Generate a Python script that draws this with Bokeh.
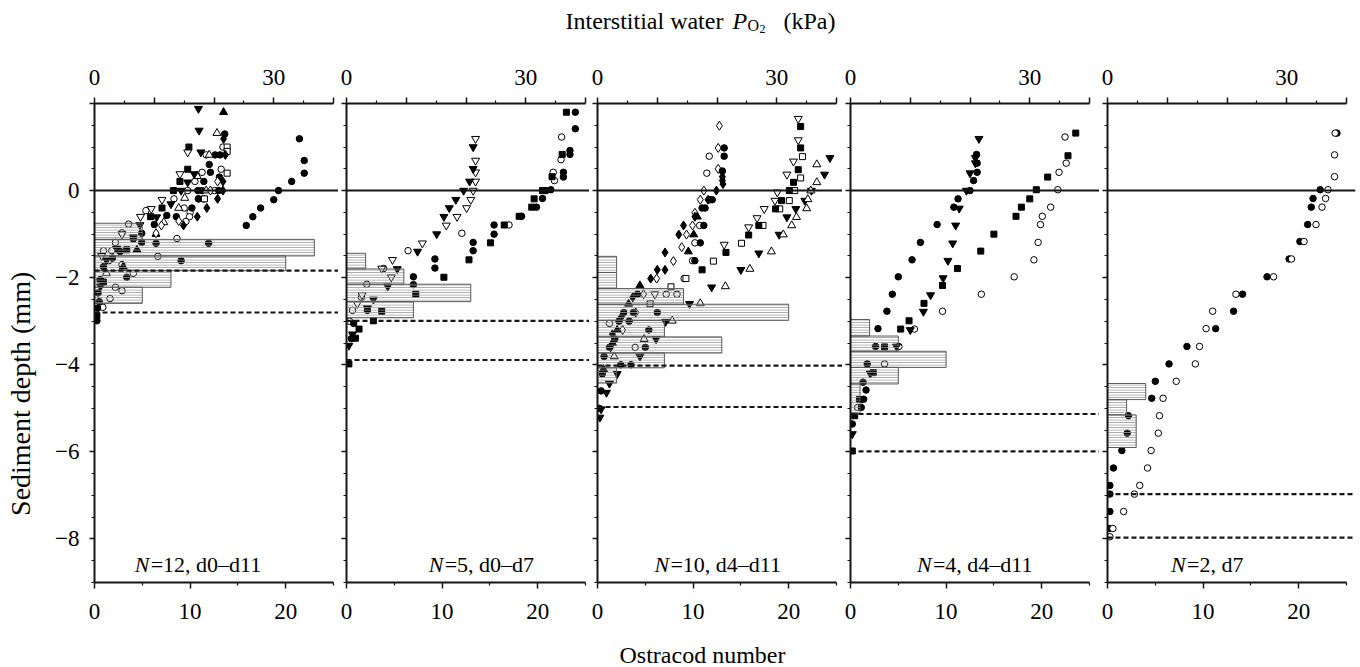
import math
from bokeh.plotting import figure
from bokeh.models import Range1d, LinearAxis, FixedTicker, Span, Label
from bokeh.layouts import row, column
from bokeh.embed import file_html
from bokeh.resources import INLINE

FONT = "Liberation Serif"

# ---------------- data: interstitial water PO2 profiles (kPa, depth mm) -------------
P1_CIRCLE_F = [(21.8, 1.30), (20.2, 0.82), (21.0, 0.82), (19.2, 0.60), (19.4, 0.42), (20.9, 0.31),
               (18.3, 0.21), (17.3, 0.0), (18.0, 0.0), (20.8, 0.0), (17.4, -0.19), (18.3, -0.19),
               (16.3, -0.40), (12.1, -0.57), (13.7, -0.60), (10.0, -0.78), (7.9, -0.98), (6.5, -1.11),
               (7.9, -1.19), (10.3, -1.21), (19.1, -1.21), (14.5, -1.61), (5.4, -1.99), (4.3, -1.40),
               (3.0, -1.55), (1.5, -1.75), (1.0, -2.05), (0.6, -2.35), (0.8, -2.55), (0.5, -2.70),
               (0.4, -2.99), (34.3, 1.19), (35.1, 0.69), (35.1, 0.40), (33.0, 0.21), (30.8, 0.0),
               (30.0, -0.21), (27.8, -0.40), (26.5, -0.60), (25.4, -0.80)]
P1_CIRCLE_O = [(21.5, 1.0), (18.7, 0.82), (18.0, 0.42), (21.2, 0.49), (16.8, 0.21), (15.6, 0.0),
               (20.1, 0.0), (13.3, -0.19), (17.4, -0.19), (8.6, -0.46), (15.0, -0.40), (16.0, -0.50),
               (15.9, -0.60), (15.3, -0.71), (13.8, -1.10), (5.7, -0.77), (4.6, -0.97), (3.5, -1.19),
               (1.5, -1.38), (2.9, -1.38), (10.6, -1.51), (2.4, -1.61), (4.6, -1.70), (6.5, -1.90),
               (3.5, -2.22), (4.6, -2.30), (2.6, -2.48), (1.4, -2.68), (0.9, -2.05)]
P1_SQUARE_F = [(15.8, 1.0), (15.6, 0.49), (14.3, 0.21), (13.2, 0.0), (11.3, -0.40), (9.4, -0.60),
               (5.4, -1.36), (1.5, -2.10), (0.4, -2.87)]
P1_SQUARE_O = [(22.2, 1.0), (22.2, 0.90), (22.2, 0.40), (18.4, -0.19)]
P1_TRI_F = [(21.6, 1.80), (10.3, -1.0), (7.1, -1.36), (4.8, -1.75)]
P1_TRI_O = [(20.5, 1.32), (19.2, 0.82), (17.2, 0.33), (18.7, 0.0), (15.1, -0.17), (14.1, -0.40),
            (11.6, -0.73), (2.0, -1.90)]
P1_INV_F = [(17.4, 1.88), (17.5, 1.38), (17.8, 0.88), (16.7, 0.38), (15.6, 0.19), (14.5, 0.0),
            (12.8, -0.31), (10.4, -0.61), (7.6, -0.79), (6.5, -1.07), (3.7, -1.33), (2.0, -1.60),
            (1.0, -2.20)]
P1_INV_O = [(15.6, 0.88), (14.3, 0.38), (11.3, -0.21), (9.5, -0.42), (7.7, -0.60), (4.6, -1.0),
            (1.2, -1.50)]
P1_DIA_F = [(21.6, 1.19), (21.9, 0.82), (21.5, 0.21), (21.5, 0.0), (20.6, -0.19), (18.8, -0.40),
            (17.2, -0.60), (14.9, -0.80)]
P1_DIA_O = [(20.6, 0.21), (19.4, 0.0), (14.1, -0.70), (11.2, -0.80), (10.3, -0.98)]

P2_CIRCLE_F = [(38.3, 1.80), (38.3, 1.42), (37.4, 0.92), (37.4, 0.83), (36.3, 0.42), (36.3, 0.31),
               (34.2, 0.02), (33.4, 0.0), (32.8, -0.18), (31.8, -0.38), (29.3, -0.59), (24.7, -0.79),
               (24.7, -1.0), (21.2, -1.19), (21.2, -1.38), (14.8, -1.57), (14.8, -1.78), (11.2, -1.98),
               (11.2, -2.16), (3.5, -2.75), (1.2, -3.05), (0.8, -3.40)]
P2_SQUARE_F = [(36.8, 1.80), (36.1, 0.83), (34.4, 0.32), (32.8, 0.0), (31.4, -0.19), (31.0, -0.38),
               (28.9, -0.59), (26.4, -0.79), (24.1, -1.20), (20.5, -1.59), (16.3, -1.99), (11.6, -2.38),
               (5.9, -2.77), (4.5, -2.99), (2.1, -3.18), (1.5, -3.39), (0.4, -3.98)]
P2_CIRCLE_O = [(36.0, 1.23), (35.9, 0.71), (34.6, 0.42), (34.8, 0.23), (27.2, -0.79), (19.3, -0.98),
               (10.3, -1.38), (6.2, -1.79), (3.4, -2.15), (2.5, -2.45), (1.0, -2.75), (0.5, -3.0)]
P2_INV_O = [(21.6, 1.19), (21.6, 0.69), (21.6, 0.42), (21.6, 0.21), (21.2, 0.0), (20.8, -0.21),
            (20.1, -0.40), (18.5, -0.60), (16.7, -0.80), (12.7, -1.21), (7.7, -1.59), (5.9, -1.79),
            (7.5, -1.99), (2.6, -2.40), (1.8, -2.60)]
P2_INV_F = [(21.2, 1.0), (21.2, 0.5), (20.6, 0.21), (19.6, 0.0), (18.3, -0.21), (17.2, -0.40),
            (16.3, -0.60), (15.1, -1.0), (11.9, -1.40), (8.5, -1.80), (6.9, -2.20), (4.5, -2.50),
            (3.5, -2.70), (1.0, -3.30), (0.4, -3.56)]

P3_DIA_O = [(20.4, 1.49), (20.2, 0.98), (20.2, 0.50), (17.8, 0.0), (17.2, -0.21), (16.3, -0.51),
            (15.9, -0.80), (14.9, -1.01), (14.1, -1.30), (12.7, -1.62), (9.9, -2.02), (7.7, -2.38),
            (6.4, -2.80), (4.2, -3.20), (2.2, -3.60)]
P3_DIA_F = [(20.9, 0.32), (20.9, 0.23), (21.0, 0.15), (19.9, 0.0), (18.5, -0.21), (16.3, -0.60),
            (14.4, -0.80), (13.6, -1.01), (11.3, -1.42), (10.0, -1.82), (11.3, -1.82), (8.9, -2.02),
            (5.9, -2.45), (4.0, -2.90), (2.5, -3.30)]
P3_CIRCLE_F = [(21.2, 0.98), (21.2, 0.79), (20.9, 0.45), (18.8, -0.21), (19.2, -0.21), (17.5, -0.40),
               (18.0, -0.40), (17.8, -0.80), (17.2, -1.20), (16.3, -1.61), (6.7, -2.38), (4.4, -2.80),
               (6.0, -2.80), (10.0, -2.80), (3.6, -3.0), (5.3, -3.0), (8.6, -3.20), (2.9, -3.41),
               (2.0, -3.60), (8.0, -3.60), (1.1, -3.81), (3.9, -4.0), (5.6, -4.0), (0.8, -4.21),
               (0.6, -4.60), (0.3, -5.0)]
P3_CIRCLE_O = [(18.7, 0.79), (18.3, 0.40), (17.1, -0.80), (16.3, -1.20), (15.9, -1.61), (14.5, -2.02),
               (13.3, -2.38), (11.5, -2.38), (6.3, -3.60), (2.0, -3.05)]
P3_TRI_F = [(16.7, -0.60), (16.1, -1.01), (15.2, -1.40), (7.1, -2.18), (5.2, -2.60), (3.3, -3.20),
            (2.5, -3.50), (1.0, -4.10)]
P3_SQUARE_F = [(34.0, 1.47), (34.0, 0.98), (33.6, 0.48), (32.8, 0.19), (32.1, 0.0), (30.8, -0.23),
               (29.8, -0.42), (27.0, -0.80), (25.3, -1.02), (21.5, -1.42), (17.5, -1.82)]
P3_SQUARE_O = [(34.3, 0.78), (34.0, 0.29), (33.0, 0.0), (32.1, -0.23), (30.5, -0.42), (27.7, -0.80),
               (24.1, -1.21), (19.4, -1.62), (14.8, -2.02), (12.3, -2.21), (8.8, -2.60)]
P3_INV_O = [(33.6, 1.65), (33.6, 1.16), (32.8, 0.67), (31.7, 0.37), (30.1, -0.04), (29.7, -0.23),
            (27.9, -0.42), (26.7, -0.63), (25.3, -0.84), (21.2, -1.24), (9.6, -2.38)]
P3_INV_F = [(38.9, 0.75), (38.0, 0.37), (35.8, 0.0), (34.7, -0.23), (33.2, -0.42), (31.7, -0.61),
            (30.4, -1.01), (27.0, -1.44), (24.0, -1.82), (19.1, -2.22), (15.4, -2.60), (11.4, -3.01),
            (9.8, -3.41), (7.1, -3.81), (3.3, -4.21), (2.0, -4.43), (1.5, -4.64), (0.6, -5.02),
            (0.4, -5.21)]
P3_TRI_O = [(36.7, 0.60), (36.7, 0.19), (35.7, 0.0), (35.2, -0.20), (35.0, -0.41), (33.3, -0.61),
            (32.5, -0.80), (31.1, -1.01), (29.1, -1.40), (25.5, -1.80), (21.4, -2.20), (17.2, -2.59),
            (12.5, -2.99), (7.8, -3.41), (2.8, -3.81)]

P4_CIRCLE_F = [(21.1, 0.83), (21.2, 0.63), (21.2, 0.42), (20.6, 0.23), (20.0, 0.0), (18.0, -0.19),
               (17.3, -0.38), (14.5, -0.78), (11.7, -1.19), (10.3, -1.59), (8.0, -1.98), (7.0, -2.38),
               (6.1, -2.77), (4.6, -3.17), (4.2, -3.58), (2.8, -3.98), (2.1, -4.40), (2.6, -4.58),
               (2.2, -4.79), (1.8, -4.98), (0.3, -5.36)]
P4_INV_F = [(21.5, 1.19), (20.9, 0.75), (20.9, 0.63), (20.0, 0.40), (19.4, 0.0), (18.2, -0.41),
            (17.6, -0.80), (17.1, -1.21), (16.3, -1.61), (15.5, -2.01), (13.4, -2.40), (12.2, -2.78),
            (10.0, -3.20), (7.7, -3.58), (3.3, -4.20), (0.3, -5.59)]
P4_SQUARE_F = [(37.7, 1.32), (36.4, 0.80), (33.0, 0.31), (31.1, 0.02), (30.0, -0.19), (28.6, -0.38),
               (27.7, -0.59), (24.0, -1.0), (21.8, -1.39), (17.9, -1.79), (15.4, -2.18), (12.3, -2.59),
               (9.8, -2.99), (8.4, -3.18), (5.7, -3.59), (3.8, -4.18), (1.5, -4.80), (0.7, -5.17),
               (0.3, -5.98)]
P4_CIRCLE_O = [(35.9, 1.23), (36.1, 0.63), (34.9, 0.42), (34.7, 0.02), (33.5, -0.38), (32.1, -0.59),
               (31.8, -0.78), (31.4, -1.19), (30.7, -1.59), (27.4, -1.98), (21.9, -2.38), (15.4, -2.77),
               (10.7, -3.18), (8.1, -3.58), (5.7, -3.98), (1.2, -4.98)]

P5_CIRCLE_O = [(38.1, 1.32), (38.0, 0.82), (38.0, 0.32), (36.9, 0.02), (36.5, -0.18), (35.9, -0.38),
               (34.9, -0.78), (32.9, -1.17), (30.8, -1.57), (27.8, -1.98), (21.5, -2.38), (17.6, -2.77),
               (16.5, -3.17), (15.4, -3.58), (14.7, -3.98), (11.5, -4.38), (9.3, -4.77), (8.7, -5.17),
               (8.5, -5.57), (7.3, -5.97), (6.7, -6.37), (5.4, -6.77), (4.5, -6.97), (2.7, -7.37),
               (0.9, -7.76), (0.4, -7.95)]
P5_CIRCLE_F = [(38.4, 1.32), (35.6, 0.02), (34.4, -0.18), (34.1, -0.38), (33.5, -0.78), (32.2, -1.17),
               (30.4, -1.57), (26.7, -1.98), (22.6, -2.38), (21.1, -2.77), (18.1, -3.17), (13.3, -3.58),
               (10.3, -3.98), (8.0, -4.38), (7.4, -4.77), (3.5, -5.17), (3.3, -5.57), (2.4, -5.97),
               (1.0, -6.37), (0.4, -6.77), (0.4, -6.97), (0.4, -7.37), (0.3, -7.76)]

# ---------------- data: ostracod vertical distributions (bins in mm, counts) ----------
P1_BIN_TOP = [-0.75, -1.12, -1.50, -1.84, -2.22]
P1_BIN_BOTTOM = [-1.12, -1.50, -1.84, -2.22, -2.59]
P1_BIN_COUNT = [5, 23, 20, 8, 5]
P2_BIN_TOP = [-1.44, -1.80, -2.15, -2.55]
P2_BIN_BOTTOM = [-1.80, -2.15, -2.55, -2.92]
P2_BIN_COUNT = [2, 6, 13, 7]
P3_BIN_TOP = [-1.51, -1.88, -2.25, -2.61, -2.98, -3.36, -3.73, -4.07]
P3_BIN_BOTTOM = [-1.88, -2.25, -2.61, -2.98, -3.36, -3.73, -4.07, -4.42]
P3_BIN_COUNT = [2, 2, 9, 20, 7, 13, 7, 2]
P4_BIN_TOP = [-2.96, -3.34, -3.69, -4.06, -4.44]
P4_BIN_BOTTOM = [-3.34, -3.69, -4.06, -4.44, -5.13]
P4_BIN_COUNT = [2, 5, 10, 5, 1]
P5_BIN_TOP = [-4.43, -4.80, -5.15]
P5_BIN_BOTTOM = [-4.80, -5.15, -5.90]
P5_BIN_COUNT = [4, 2, 3]

# depth range limits (dashed lines), mm
P1_LIMITS = [-1.84, -2.80]
P2_LIMITS = [-2.99, -3.89]
P3_LIMITS = [-4.02, -4.97]
P4_LIMITS = [-5.13, -5.99]
P5_LIMITS = [-6.97, -7.97]

NOTE_TEXT = ["=12, d0\u2013d11", "=5, d0\u2013d7", "=10, d4\u2013d11", "=4, d4\u2013d11", "=2, d7"]

Y_TICKS = [-8, -6, -4, -2, 0, 2]
Y_MINOR = [-9 + 0.5 * i for i in range(23)]
OST_TICKS = [0, 10, 20]
OST_MINOR = [5, 15, 25]
KPA_TICKS = [0, 10, 20, 30, 40]
KPA_MINOR = [5, 15, 25, 35]

# ---------------- styling -----------------------------------------------------------
MARKER_STYLE = {
    "circle_f": ("circle", "black", 6.5),
    "circle_o": ("circle", "white", 6.5),
    "square_f": ("square", "black", 6),
    "square_o": ("square", "white", 6),
    "tri_f": ("triangle", "black", 8),
    "tri_o": ("triangle", "white", 8),
    "inv_f": ("inverted_triangle", "black", 8),
    "inv_o": ("inverted_triangle", "white", 8),
    "dia_f": ("diamond", "black", 9),
    "dia_o": ("diamond", "white", 9),
}

PANELS = [
    dict(points=[("circle_o", P1_CIRCLE_O), ("circle_f", P1_CIRCLE_F), ("square_f", P1_SQUARE_F),
                 ("square_o", P1_SQUARE_O), ("tri_f", P1_TRI_F), ("tri_o", P1_TRI_O),
                 ("inv_f", P1_INV_F), ("inv_o", P1_INV_O), ("dia_f", P1_DIA_F), ("dia_o", P1_DIA_O)],
         bins=(P1_BIN_TOP, P1_BIN_BOTTOM, P1_BIN_COUNT), limits=P1_LIMITS, note_x=4.2),
    dict(points=[("circle_o", P2_CIRCLE_O), ("circle_f", P2_CIRCLE_F), ("square_f", P2_SQUARE_F),
                 ("inv_o", P2_INV_O), ("inv_f", P2_INV_F)],
         bins=(P2_BIN_TOP, P2_BIN_BOTTOM, P2_BIN_COUNT), limits=P2_LIMITS, note_x=8.6),
    dict(points=[("dia_o", P3_DIA_O), ("dia_f", P3_DIA_F), ("circle_o", P3_CIRCLE_O),
                 ("circle_f", P3_CIRCLE_F), ("tri_f", P3_TRI_F), ("square_o", P3_SQUARE_O),
                 ("square_f", P3_SQUARE_F), ("inv_o", P3_INV_O), ("inv_f", P3_INV_F), ("tri_o", P3_TRI_O)],
         bins=(P3_BIN_TOP, P3_BIN_BOTTOM, P3_BIN_COUNT), limits=P3_LIMITS, note_x=5.95),
    dict(points=[("circle_o", P4_CIRCLE_O), ("circle_f", P4_CIRCLE_F), ("inv_f", P4_INV_F),
                 ("square_f", P4_SQUARE_F)],
         bins=(P4_BIN_TOP, P4_BIN_BOTTOM, P4_BIN_COUNT), limits=P4_LIMITS, note_x=6.95),
    dict(points=[("circle_f", P5_CIRCLE_F), ("circle_o", P5_CIRCLE_O)],
         bins=(P5_BIN_TOP, P5_BIN_BOTTOM, P5_BIN_COUNT), limits=P5_LIMITS, note_x=6.65),
]

LEFT_STRIP_W = 40
FRAME_W = [244, 243, 245, 249, 248]
BORDER_L = [94 - LEFT_STRIP_W, 8, 8, 8, 8]
BORDER_R = [0, 0, 0, 0, 5]
FRAME_H = 479
TOP_STRIP_H = 48
BORDER_T = 55
BORDER_B = 50
PANEL_H = BORDER_T + FRAME_H + BORDER_B
BOTTOM_STRIP_H = 667 - TOP_STRIP_H - PANEL_H
PX_PER_OSTRACOD = 9.56
KPA_PER_OSTRACOD = 1.6
INK = "#151515"


def style_axis(ax):
    ax.axis_line_color = INK
    ax.axis_line_width = 2
    ax.major_tick_line_color = INK
    ax.major_tick_line_width = 1.5
    ax.minor_tick_line_color = INK
    ax.minor_tick_line_width = 1.2
    ax.major_tick_in = 0
    ax.minor_tick_in = 0
    ax.major_tick_out = 6
    ax.minor_tick_out = 3
    ax.major_label_text_font = FONT
    ax.major_label_text_font_size = "23px"
    ax.major_label_text_color = "black"


def strip(width, height):
    s = figure(width=width, height=height, x_range=Range1d(0, width), y_range=Range1d(0, height),
               output_backend="svg", toolbar_location=None, min_border=0, title=None,
               x_axis_location=None, y_axis_location=None)
    s.outline_line_color = None
    s.grid.visible = False
    return s


def make_panel(i, spec):
    fw = FRAME_W[i]
    xmax = fw / PX_PER_OSTRACOD
    p = figure(frame_width=fw, frame_height=FRAME_H,
               x_range=Range1d(0, xmax), y_range=Range1d(-9, 2),
               output_backend="svg", toolbar_location=None,
               min_border_left=BORDER_L[i], min_border_right=BORDER_R[i],
               min_border_top=BORDER_T, min_border_bottom=BORDER_B,
               x_axis_location=None, y_axis_location=None)
    p.grid.visible = False
    p.outline_line_color = None
    p.background_fill_color = "white"
    p.border_fill_color = "white"
    p.extra_x_ranges = {"kpa": Range1d(0, xmax * KPA_PER_OSTRACOD)}

    # bottom axis: ostracod number
    xb = LinearAxis(ticker=FixedTicker(ticks=OST_TICKS, minor_ticks=OST_MINOR), bounds=(0, 25))
    style_axis(xb)
    xb.major_label_standoff = 15
    p.add_layout(xb, "below")

    # top axis: PO2 (kPa)
    xt = LinearAxis(x_range_name="kpa",
                    ticker=FixedTicker(ticks=KPA_TICKS, minor_ticks=KPA_MINOR), bounds=(0, 40))
    style_axis(xt)
    xt.major_label_overrides = {10: "", 20: "", 40: ""}
    xt.major_label_standoff = 13
    p.add_layout(xt, "above")

    # left axis: depth
    yl = LinearAxis(ticker=FixedTicker(ticks=Y_TICKS, minor_ticks=Y_MINOR), bounds=(-9, 2))
    style_axis(yl)
    yl.minor_tick_out = 3
    yl.major_tick_out = 5
    if i == 0:
        yl.major_label_overrides = {t: ("" if t == 2 else ("0" if t == 0 else "\u2212%d" % abs(t)))
                                    for t in Y_TICKS}
        yl.major_label_standoff = 10
    else:
        yl.major_label_overrides = {t: "" for t in Y_TICKS}
        yl.major_label_standoff = 0
    p.add_layout(yl, "left")

    # PO2 profiles
    for key, pts in spec["points"]:
        marker, fill, size = MARKER_STYLE[key]
        p.scatter([q[0] for q in pts], [q[1] for q in pts], x_range_name="kpa",
                  marker=marker, size=size, fill_color=fill, line_color="black", line_width=1)

    # ostracod distribution (hatched step bars over the profiles)
    tops, bottoms, counts = spec["bins"]
    p.quad(left=[0] * len(counts), right=counts, top=tops, bottom=bottoms,
           fill_color=None, line_color="#5a5a5a", line_width=1,
           hatch_pattern="horizontal_line", hatch_color="#9a9a9a", hatch_scale=2.5, hatch_weight=1)

    # sediment surface & depth limits
    p.add_layout(Span(location=0, dimension="width", line_color=INK, line_width=2))
    for d in spec["limits"]:
        p.add_layout(Span(location=d, dimension="width", line_color=INK, line_width=2.2,
                          line_dash="5 3"))

    # N / day annotation
    p.add_layout(Label(x=spec["note_x"], y=-8.58, text="N", text_font=FONT,
                       text_font_style="italic", text_font_size="22px",
                       text_baseline="alphabetic", text_color="black"))
    p.add_layout(Label(x=spec["note_x"], y=-8.58, x_offset=16, text=NOTE_TEXT[i],
                       text_font=FONT, text_font_size="22px",
                       text_baseline="alphabetic", text_color="black"))
    return p


panels = [make_panel(i, s) for i, s in enumerate(PANELS)]

TOTAL_W = LEFT_STRIP_W + sum(FRAME_W) + sum(BORDER_L) + sum(BORDER_R)

# left strip with the depth title (coordinates = pixels, y from the strip bottom)
left = strip(LEFT_STRIP_W, PANEL_H)
left.add_layout(Label(x=20, y=PANEL_H - (402 - TOP_STRIP_H), text="Sediment depth (mm)",
                      angle=math.pi / 2, text_font=FONT, text_font_size="28px",
                      text_align="center", text_baseline="middle", text_color="black"))

# top title strip
top = strip(TOTAL_W, TOP_STRIP_H)
for txt, x, y, size, style in [("Interstitial water", 565, 28, "24px", "normal"),
                               ("P", 732, 28, "24px", "italic"),
                               ("O", 747, 23, "16px", "normal"),
                               ("2", 759, 20, "12px", "normal"),
                               ("(kPa)", 783, 28, "24px", "normal")]:
    top.add_layout(Label(x=x, y=y, text=txt, text_font=FONT, text_font_size=size,
                         text_font_style=style, text_baseline="alphabetic", text_color="black"))

# bottom title strip
bottom = strip(TOTAL_W, BOTTOM_STRIP_H)
bottom.add_layout(Label(x=702, y=13, text="Ostracod number", text_font=FONT, text_font_size="24px",
                        text_align="center", text_baseline="alphabetic", text_color="black"))

layout = column(top, row(left, *panels, spacing=0), bottom, spacing=0)

with open("out.html", "w") as f:
    f.write(file_html(layout, INLINE))
